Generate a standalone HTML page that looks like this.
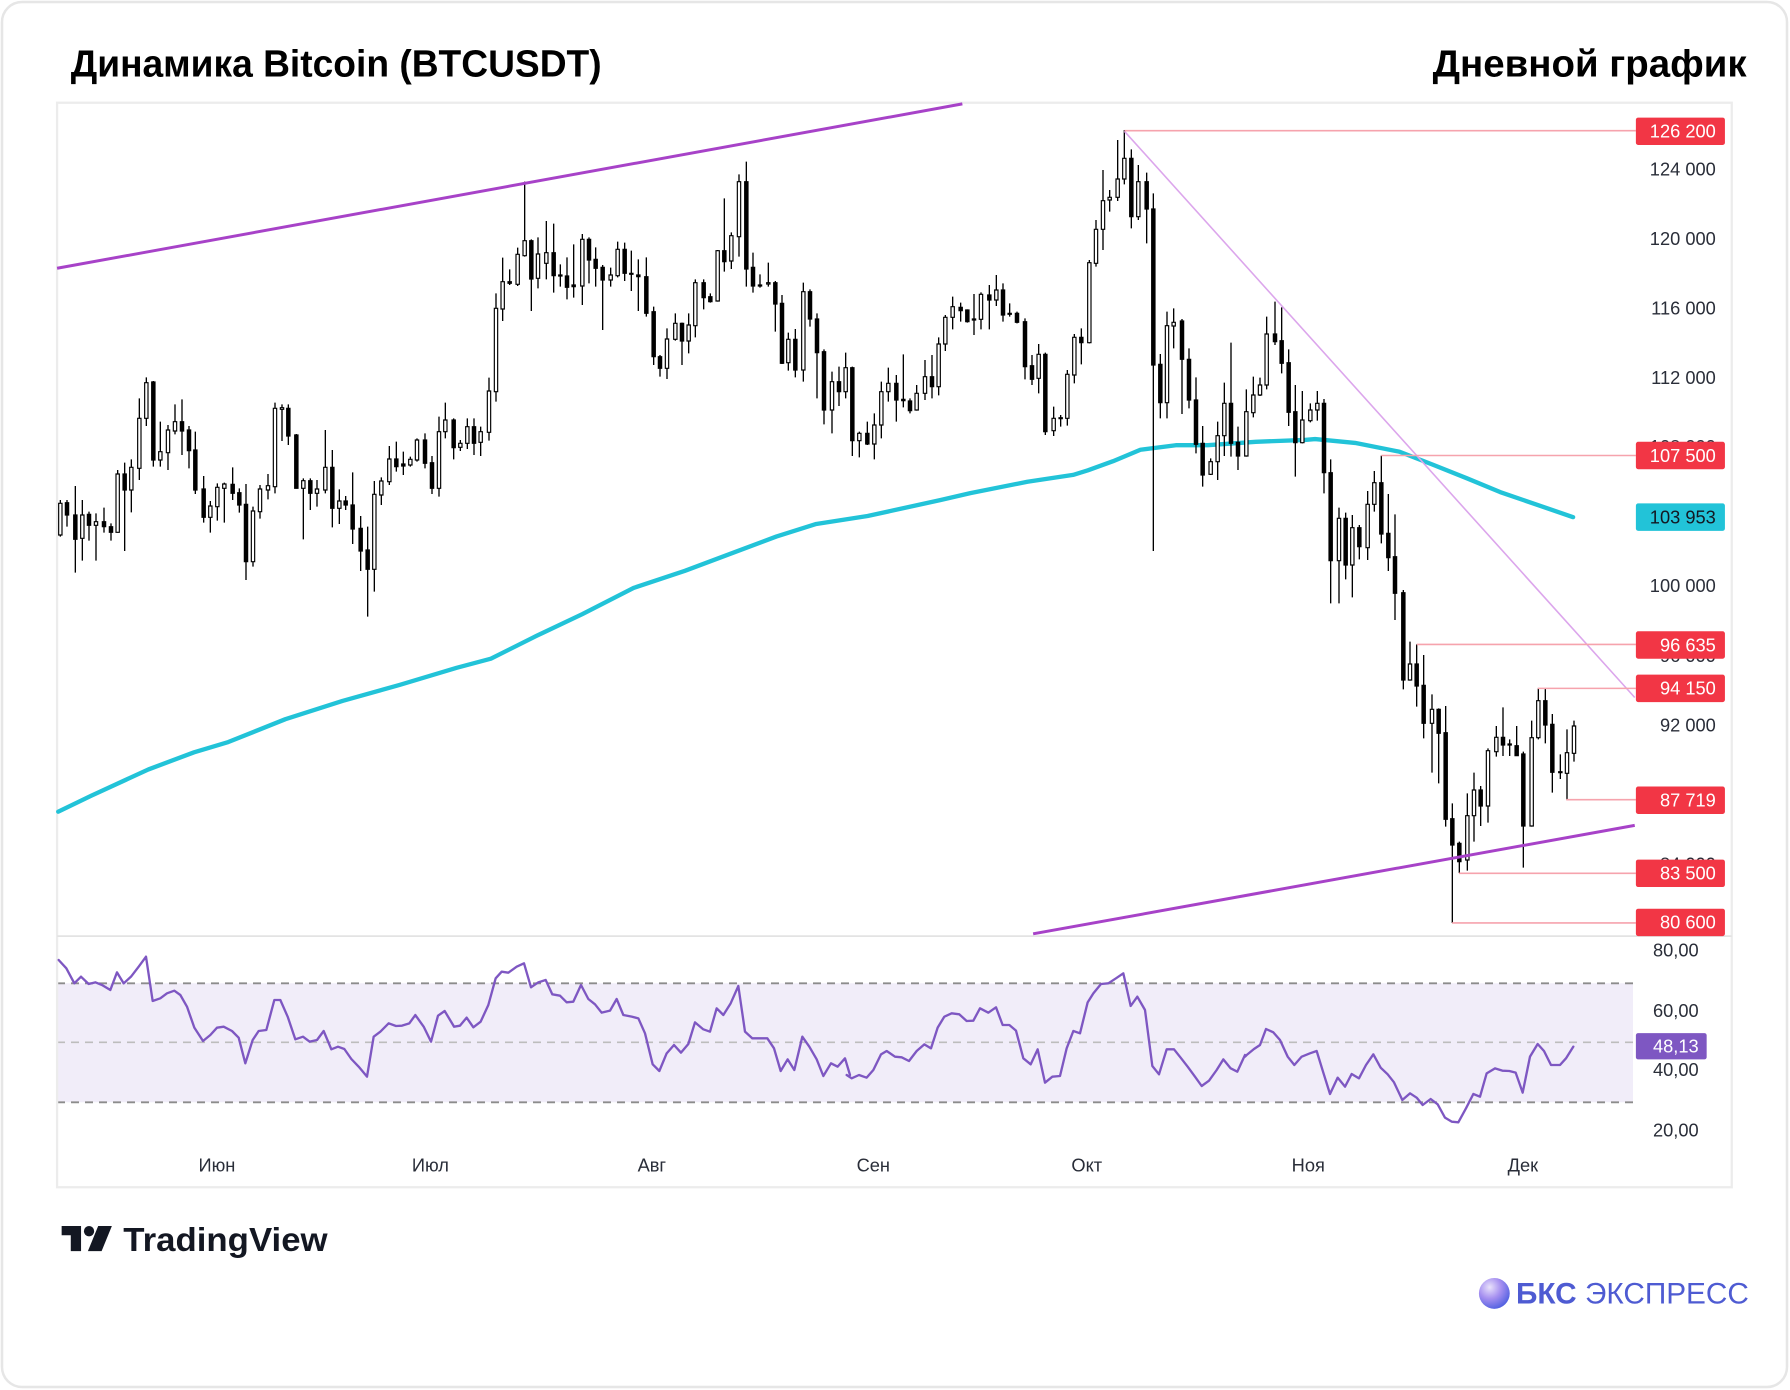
<!DOCTYPE html>
<html><head><meta charset="utf-8"><style>
html,body{margin:0;padding:0;background:#fff;}
svg{display:block;}
text{font-family:"Liberation Sans",sans-serif;}
</style></head><body>
<svg xmlns="http://www.w3.org/2000/svg" width="1790" height="1390" viewBox="0 0 1790 1390">
<rect x="0" y="0" width="1790" height="1390" fill="#fff"/>
<rect x="2" y="2" width="1785" height="1385" rx="20" fill="#fff" stroke="#e6e6e6" stroke-width="2.5"/>

<!-- RSI band (orig coords) -->
<rect x="57" y="983.3" width="1576" height="119" fill="#f1edf9"/>
<line x1="57" y1="983.3" x2="1633" y2="983.3" stroke="#8c8c8c" stroke-width="1.8" stroke-dasharray="8,6"/>
<line x1="57" y1="1042.3" x2="1633" y2="1042.3" stroke="#bdbdbd" stroke-width="1.6" stroke-dasharray="8,6"/>
<line x1="57" y1="1102.3" x2="1633" y2="1102.3" stroke="#8c8c8c" stroke-width="1.8" stroke-dasharray="8,6"/>

<g transform="scale(1.14158)">
  <!-- titles -->
  <text x="62" y="67" font-size="33" font-weight="bold" fill="#000" textLength="465" lengthAdjust="spacingAndGlyphs">Динамика Bitcoin (BTCUSDT)</text>
  <text x="1255" y="67" font-size="33" font-weight="bold" fill="#000" textLength="275" lengthAdjust="spacingAndGlyphs">Дневной график</text>
  <!-- chart frame -->
  <rect x="50" y="90" width="1467" height="950" fill="none" stroke="#ececec" stroke-width="2"/>
  <line x1="50" y1="820" x2="1517" y2="820" stroke="#e3e3e3" stroke-width="1.5"/>
  <!-- MA -->
  <polyline fill="none" stroke="#22c3d8" stroke-width="3.8" stroke-linejoin="round" stroke-linecap="round"
    points="51,711 80,697 130,674 170,659 200,650 250,630 300,614 350,600 400,585 430,577 470,557 510,538 555,515 600,500 640,485 680,470 715,459 760,452 824,438 850,432 900,422 940,416 953,412 975,404 999,394 1030,390 1058,390 1100,387 1143,385.4 1152,384.6 1187,388 1226,395.7 1255,407 1285,419 1314,431 1343,441 1378,453"/>
</g>

<!-- Candles segment 1 -->
<g transform="translate(57,370) scale(0.333333)">
<path fill="none" stroke="#000" stroke-width="4" d="M10 390V500M30 390V470M55 348V608M76 390V572M96 425V512M117 430V572M141 413V488M162 460V512M182 300V488M203 278V543M223 268V427M247 85V330M268 22V168M289 33V290M310 155V290M333 165V300M354 103V193M375 88V255M396 168V295M415 185V372M440 318V458M460 393V488M481 340V452M502 338V458M527 292V390M547 355V428M567 342V630M588 410V590M609 345V446M633 312V388M654 98V370M675 103V213M694 103V225M718 192V356M739 325V508M760 325V420M780 330V410M805 180V370M826 240V472M847 358V462M866 378V420M887 307V522M911 438V603M932 470V740M952 333V665M973 322V405M997 228V345M1018 215V305M1039 245V315M1060 260V290M1080 205V275M1104 190V295M1125 258V372M1146 140V380M1165 98V205"/>
<path fill="#fff" stroke="#000" stroke-width="3.5" d="M5 400h10V495h-10ZM71 435h10V505h-10ZM112 455h10V466h-10ZM177 312h10V487h-10ZM218 292h10V360h-10ZM242 145h10V295h-10ZM263 38h10V145h-10ZM305 245h10V270h-10ZM328 180h10V248h-10ZM349 155h10V183h-10ZM455 408h10V442h-10ZM476 352h10V410h-10ZM497 342h10V355h-10ZM583 423h10V575h-10ZM604 357h10V425h-10ZM628 347h10V360h-10ZM649 115h10V350h-10ZM670 113h10V118h-10ZM734 332h10V355h-10ZM775 357h10V370h-10ZM800 292h10V360h-10ZM842 393h10V415h-10ZM947 373h10V598h-10ZM968 333h10V375h-10ZM992 267h10V335h-10ZM1055 268h10V285h-10ZM1075 210h10V270h-10ZM1141 185h10V355h-10ZM1160 150h10V185h-10Z"/>
<path fill="#000" stroke="#000" stroke-width="3.5" d="M25 398h10V435h-10ZM50 435h10V508h-10ZM91 433h10V466h-10ZM136 455h10V470h-10ZM157 470h10V487h-10ZM198 312h10V360h-10ZM284 36h10V270h-10ZM370 155h10V183h-10ZM391 180h10V242h-10ZM410 240h10V360h-10ZM435 357h10V442h-10ZM522 343h10V370h-10ZM542 368h10V405h-10ZM562 403h10V575h-10ZM689 115h10V198h-10ZM713 195h10V355h-10ZM755 332h10V370h-10ZM821 292h10V415h-10ZM861 393h10V405h-10ZM882 405h10V477h-10ZM906 475h10V543h-10ZM927 540h10V598h-10ZM1013 267h10V290h-10ZM1034 282h10V288h-10ZM1099 210h10V280h-10ZM1120 278h10V355h-10Z"/>
</g>

<!-- Candles segment 2 -->
<g transform="translate(447,150) scale(0.333333)">
<path fill="none" stroke="#000" stroke-width="4" d="M20 805V928M40 870V903M61 805V897M81 805V915M101 830V918M126 683V872M147 430V755M167 323V513M188 358V405M212 293V408M233 95V320M253 268V483M273 262V415M298 213V388M320 221V428M340 343V410M360 322V448M380 283V443M406 252V465M426 262V400M446 292V410M467 345V540M491 353V410M512 275V382M533 278V393M553 302V423M574 328V483M598 322V500M620 470V645M639 615V680M660 535V687M685 490V572M705 518V645M725 490V610M745 388V562M770 388V478M790 430V458M812 300V455M832 145V365M853 247V357M876 73V320M898 35V410M918 308V428M939 373V413M964 338V410M985 393V545M1005 435V642M1024 548V662M1045 537V682M1069 398V695M1089 418V530M1110 490V745M1131 598V823"/>
<path fill="#fff" stroke="#000" stroke-width="3.5" d="M35 880h10V892h-10ZM56 830h10V880h-10ZM96 845h10V877h-10ZM121 723h10V847h-10ZM142 475h10V725h-10ZM162 395h10V477h-10ZM207 313h10V403h-10ZM228 272h10V317h-10ZM268 312h10V385h-10ZM293 308h10V340h-10ZM401 268h10V408h-10ZM486 375h10V390h-10ZM507 298h10V377h-10ZM655 567h10V655h-10ZM680 520h10V568h-10ZM720 525h10V573h-10ZM740 398h10V527h-10ZM807 302h10V453h-10ZM848 257h10V333h-10ZM871 95h10V260h-10ZM959 398h10V402h-10ZM1019 568h10V638h-10ZM1064 425h10V660h-10Z"/>
<path fill="#000" stroke="#000" stroke-width="3.5" d="M15 810h10V893h-10ZM76 830h10V880h-10ZM183 395h10V400h-10ZM248 272h10V387h-10ZM315 308h10V377h-10ZM335 375h10V378h-10ZM355 378h10V412h-10ZM375 405h10V410h-10ZM421 268h10V330h-10ZM441 328h10V355h-10ZM462 352h10V390h-10ZM528 298h10V370h-10ZM548 370h10V373h-10ZM569 375h10V380h-10ZM593 380h10V490h-10ZM615 485h10V620h-10ZM634 620h10V655h-10ZM700 520h10V573h-10ZM765 398h10V443h-10ZM785 440h10V455h-10ZM827 302h10V335h-10ZM893 95h10V357h-10ZM913 352h10V408h-10ZM934 405h10V408h-10ZM980 398h10V462h-10ZM1000 460h10V640h-10ZM1040 568h10V660h-10ZM1084 425h10V507h-10ZM1105 507h10V608h-10ZM1126 605h10V780h-10Z"/>
</g>

<!-- Candles segment 3 -->
<g transform="translate(828,120) scale(0.333333)">
<path fill="none" stroke="#000" stroke-width="4" d="M12 755V940M33 740V858M53 698V835M73 740V1008M94 935V1012M118 905V975M139 880V1018M160 785V955M181 743V845M205 765V905M226 703V862M246 835V880M266 795V872M291 720V840M312 705V835M332 652V826M352 585V693M374 530V628M398 548V605M418 568V608M438 522V645M459 517V628M484 495V628M505 465V558M525 490V605M545 550V590M567 575V610M591 595V778M612 705V795M632 672V820M652 698V945M677 860V948M698 885V920M718 750V917M739 642V790M760 625V733M784 420V670M804 300V440M825 150V390M845 210V275M869 60V243M889 30V193M910 88V325M931 135V300M956 158V370M976 220V1293M997 702V895M1017 575V895M1037 565V685M1062 597V882M1083 685V865M1104 772V1000M1124 918V1100"/>
<path fill="#fff" stroke="#000" stroke-width="3.5" d="M7 785h10V870h-10ZM48 743h10V815h-10ZM89 940h10V962h-10ZM134 915h10V972h-10ZM155 815h10V915h-10ZM176 790h10V815h-10ZM261 820h10V870h-10ZM286 770h10V820h-10ZM327 672h10V800h-10ZM347 592h10V672h-10ZM369 560h10V592h-10ZM433 597h10V600h-10ZM454 523h10V598h-10ZM500 510h10V540h-10ZM627 703h10V775h-10ZM672 895h10V932h-10ZM693 893h10V896h-10ZM713 763h10V895h-10ZM734 652h10V765h-10ZM779 428h10V668h-10ZM799 328h10V430h-10ZM820 242h10V328h-10ZM840 232h10V240h-10ZM864 177h10V232h-10ZM884 115h10V177h-10ZM926 185h10V290h-10ZM1012 617h10V848h-10ZM1032 607h10V618h-10Z"/>
<path fill="#000" stroke="#000" stroke-width="3.5" d="M28 785h10V815h-10ZM68 743h10V962h-10ZM113 940h10V972h-10ZM200 790h10V840h-10ZM221 838h10V842h-10ZM241 843h10V872h-10ZM307 770h10V800h-10ZM393 562h10V572h-10ZM413 570h10V605h-10ZM479 525h10V540h-10ZM520 510h10V585h-10ZM540 580h10V583h-10ZM562 580h10V607h-10ZM586 605h10V740h-10ZM607 737h10V778h-10ZM647 703h10V935h-10ZM755 652h10V668h-10ZM905 115h10V290h-10ZM951 185h10V267h-10ZM971 267h10V735h-10ZM992 733h10V848h-10ZM1057 603h10V718h-10ZM1078 718h10V840h-10ZM1099 840h10V973h-10ZM1119 970h10V1065h-10Z"/>
</g>

<!-- Candles segment 4 -->
<g transform="translate(1205,290) scale(0.333333)">
<path fill="none" stroke="#000" stroke-width="4" d="M17 505V555M38 395V570M58 278V498M78 158V500M99 410V540M124 298V500M145 260V382M165 263V318M185 80V298M210 35V165M230 52V250M251 178V408M271 285V560M292 303V460M316 340V397M337 303V392M357 327V610M377 508V940M402 653V940M422 668V868M442 675V922M463 705V808M488 603V810M508 543V665M529 497V760M550 612V843M570 673V990"/>
<path fill="#fff" stroke="#000" stroke-width="3.5" d="M12 515h10V553h-10ZM33 437h10V515h-10ZM53 340h10V437h-10ZM119 365h10V498h-10ZM140 315h10V368h-10ZM160 285h10V315h-10ZM180 132h10V285h-10ZM287 390h10V458h-10ZM311 360h10V392h-10ZM332 340h10V360h-10ZM397 685h10V812h-10ZM437 713h10V825h-10ZM483 643h10V773h-10ZM503 578h10V643h-10Z"/>
<path fill="#000" stroke="#000" stroke-width="3.5" d="M73 340h10V460h-10ZM94 457h10V498h-10ZM205 132h10V155h-10ZM225 152h10V220h-10ZM246 218h10V367h-10ZM266 365h10V458h-10ZM352 340h10V548h-10ZM372 548h10V812h-10ZM417 685h10V825h-10ZM458 713h10V770h-10ZM524 578h10V732h-10ZM545 730h10V803h-10ZM565 800h10V910h-10Z"/>
</g>

<!-- Candles segment 5 -->
<g transform="translate(1400,450) scale(0.333333)">
<path fill="none" stroke="#000" stroke-width="4" d="M10 420V718M30 575V692M50 583V770M71 615V865M96 733V968M116 775V1000M137 768V1130M157 1060V1419M178 1175V1269M202 1030V1262M222 968V1175M242 1008V1128M264 895V1118M289 828V920M309 772V918M329 868V918M350 828V918M370 905V1253M395 812V1130M415 715V868M436 716V880M457 792V1028M481 913V987M501 838V1050M522 812V935"/>
<path fill="#fff" stroke="#000" stroke-width="3.5" d="M25 642h10V690h-10ZM91 778h10V820h-10ZM197 1097h10V1230h-10ZM217 1020h10V1097h-10ZM259 902h10V1068h-10ZM284 862h10V905h-10ZM390 863h10V1128h-10ZM410 752h10V863h-10ZM496 908h10V970h-10ZM517 828h10V910h-10Z"/>
<path fill="#000" stroke="#000" stroke-width="3.5" d="M5 428h10V690h-10ZM45 642h10V708h-10ZM66 706h10V820h-10ZM111 778h10V850h-10ZM132 848h10V1108h-10ZM152 1106h10V1185h-10ZM173 1180h10V1235h-10ZM237 1020h10V1068h-10ZM304 862h10V885h-10ZM324 882h10V885h-10ZM345 887h10V917h-10ZM365 912h10V1128h-10ZM431 752h10V825h-10ZM452 823h10V967h-10ZM476 965h10V968h-10Z"/>
</g>

<!-- RSI line -->
<g fill="none" stroke="#7e57c2" stroke-width="7" stroke-linejoin="round" stroke-linecap="round">
<path transform="translate(57,945) scale(0.333333)" d="M5 45L28 70 52 115 72 95 95 117 115 112 135 120 160 135 180 82 200 115 222 95 245 65 267 35 287 168 310 160 330 145 352 137 370 150 390 185 412 248 438 288 460 270 480 248 500 245 525 258 545 278 565 355 587 285 605 258 628 255 652 165 670 165 692 215 715 283 738 275 758 290 780 285 800 258 823 313 843 305 862 312 883 342 905 365 930 395 950 275 970 260 995 235 1017 243 1035 242 1057 235 1075 210 1100 245 1122 290 1143 212 1163 198 1190 243"/>
<path transform="translate(450,945) scale(0.333333)" d="M12 245L30 242 50 218 70 247 92 230 115 180 137 100 155 80 175 83 200 65 222 55 243 127 265 112 287 105 307 148 330 152 350 172 370 170 393 120 415 162 435 178 455 203 480 197 500 162 520 210 545 215 565 220 585 265 608 358 628 378 650 325 672 300 693 323 715 297 735 232 760 253 780 260 800 190 820 210 842 175 865 123 885 260 907 280 930 280 952 280 972 310 992 378 1013 343 1033 375 1057 275 1078 305 1100 343 1120 393 1143 355 1163 365 1185 340 1200 390"/>
<path transform="translate(845,945) scale(0.333333)" d="M5 390L20 400 42 390 65 398 85 375 108 328 125 318 150 335 170 337 192 348 215 318 238 298 258 310 278 248 298 215 320 205 343 208 365 228 385 227 405 190 430 203 453 187 473 240 493 240 513 257 535 340 557 358 578 313 600 413 622 395 645 393 665 310 685 258 705 265 728 172 745 145 768 117 790 115 813 100 835 85 857 183 877 155 900 195 922 363 942 388 965 313 987 313 1007 338 1028 365 1050 395 1070 423 1092 407 1115 375 1135 343 1157 370 1177 380 1200 330"/>
<path transform="translate(1240,945) scale(0.333333)" d="M15 335L20 330 42 312 60 300 78 252 100 262 120 285 143 335 163 360 185 335 210 325 230 318 250 383 270 447 293 398 315 425 335 387 357 400 378 360 400 328 422 368 443 388 462 412 487 465 510 445 530 458 548 480 572 462 593 478 615 518 635 530 655 532 678 490 700 447 720 455 740 385 765 370 787 377 808 378 827 383 848 443 870 335 893 297 912 318 933 360 960 360 978 340 1000 305"/>
</g>

<g transform="scale(1.14158)">
  <!-- trend lines -->
  <line x1="50" y1="235" x2="843" y2="91" stroke="#a742c8" stroke-width="2.6"/>
  <line x1="905" y1="818" x2="1432" y2="723" stroke="#a742c8" stroke-width="2.6"/>
  <line x1="985" y1="115" x2="1432" y2="611" stroke="#dca6ec" stroke-width="1.4"/>
  <!-- horizontal levels -->
  <g stroke="#f6a3ad" stroke-width="1.4">
    <line x1="985" y1="114.5" x2="1433" y2="114.5"/>
    <line x1="1210" y1="399" x2="1433" y2="399"/>
    <line x1="1241" y1="564.5" x2="1433" y2="564.5"/>
    <line x1="1347" y1="603" x2="1433" y2="603"/>
    <line x1="1372" y1="700.5" x2="1433" y2="700.5"/>
    <line x1="1278" y1="765" x2="1433" y2="765"/>
    <line x1="1272" y1="808.5" x2="1433" y2="808.5"/>
  </g>
  <!-- price axis ticks -->
  <g font-size="16" fill="#2a2e39" text-anchor="end">
    <text x="1503" y="153.7">124 000</text>
    <text x="1503" y="214.7">120 000</text>
    <text x="1503" y="275.7">116 000</text>
    <text x="1503" y="336.2">112 000</text>
    <text x="1503" y="396.7">108 000</text>
    <text x="1503" y="457.7">104 000</text>
    <text x="1503" y="518.7">100 000</text>
    <text x="1503" y="579.7">96 000</text>
    <text x="1503" y="640.7">92 000</text>
    <text x="1503" y="701.7">88 000</text>
    <text x="1503" y="762.7">84 000</text>
  </g>
  <!-- price labels -->
  <g font-size="16" text-anchor="end">
    <rect x="1433" y="103" width="78" height="24" rx="2" fill="#f23645"/>
    <text x="1503" y="120.5" fill="#fff">126 200</text>
    <rect x="1433" y="387" width="78" height="24" rx="2" fill="#f23645"/>
    <text x="1503" y="404.5" fill="#fff">107 500</text>
    <rect x="1433" y="441" width="78" height="24" rx="2" fill="#22c3d8"/>
    <text x="1503" y="458.5" fill="#131722">103 953</text>
    <rect x="1433" y="553" width="78" height="24" rx="2" fill="#f23645"/>
    <text x="1503" y="570.5" fill="#fff">96 635</text>
    <rect x="1433" y="591" width="78" height="24" rx="2" fill="#f23645"/>
    <text x="1503" y="608.5" fill="#fff">94 150</text>
    <rect x="1433" y="689" width="78" height="24" rx="2" fill="#f23645"/>
    <text x="1503" y="706.5" fill="#fff">87 719</text>
    <rect x="1433" y="753" width="78" height="24" rx="2" fill="#f23645"/>
    <text x="1503" y="770.5" fill="#fff">83 500</text>
    <rect x="1433" y="796" width="78" height="24" rx="2" fill="#f23645"/>
    <text x="1503" y="813.5" fill="#fff">80 600</text>
  </g>
  <!-- RSI axis -->
  <g font-size="16" fill="#2a2e39" text-anchor="end">
    <text x="1488" y="837.7">80,00</text>
    <text x="1488" y="890.7">60,00</text>
    <text x="1488" y="942.7">40,00</text>
    <text x="1488" y="995.7">20,00</text>
  </g>
  <rect x="1433" y="905" width="62" height="23" rx="2" fill="#7e57c2"/>
  <text x="1488" y="922" font-size="16" fill="#fff" text-anchor="end">48,13</text>
  <!-- x axis -->
  <g font-size="16" fill="#2a2e39" text-anchor="middle">
    <text x="190" y="1026">Июн</text>
    <text x="377" y="1026">Июл</text>
    <text x="571" y="1026">Авг</text>
    <text x="765" y="1026">Сен</text>
    <text x="952" y="1026">Окт</text>
    <text x="1146" y="1026">Ноя</text>
    <text x="1334" y="1026">Дек</text>
  </g>
  <!-- TradingView logo -->
  <g fill="#131722">
    <path d="M54 1074H71V1096H62V1082H54Z"/>
    <circle cx="78" cy="1078.5" r="4.5"/>
    <path d="M86 1074H98L89 1096H77Z"/>
  </g>
  <text x="108" y="1096" font-size="29" font-weight="bold" fill="#131722" textLength="179" lengthAdjust="spacingAndGlyphs">TradingView</text>
  <!-- BKS logo -->
  <defs>
    <radialGradient id="bks" cx="35%" cy="30%" r="75%">
      <stop offset="0" stop-color="#e9e2fb"/>
      <stop offset="0.5" stop-color="#a58ff0"/>
      <stop offset="1" stop-color="#4e5fe0"/>
    </radialGradient>
  </defs>
  <circle cx="1309" cy="1133" r="13.5" fill="url(#bks)"/>
  <text x="1328" y="1142" font-size="26" fill="#4e5bd2" textLength="204" lengthAdjust="spacingAndGlyphs"><tspan font-weight="bold">БКС</tspan> ЭКСПРЕСС</text>
</g>
</svg>
</body></html>
